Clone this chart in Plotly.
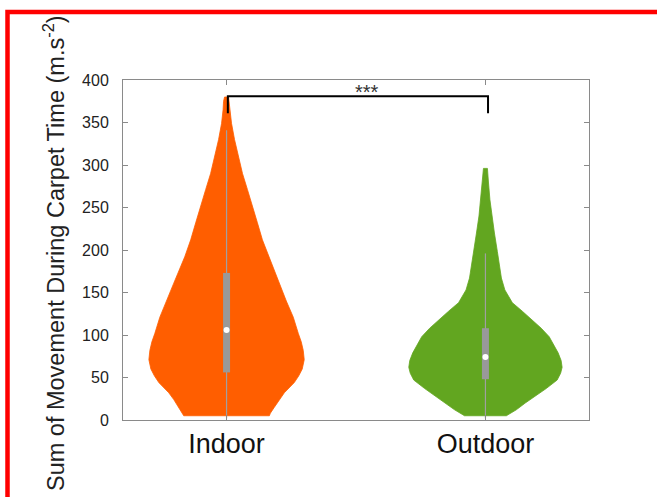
import plotly.graph_objects as go

# ---------------- data ----------------
categories = ["Indoor", "Outdoor"]
y_ticks = [0, 50, 100, 150, 200, 250, 300, 350, 400]

# violin outline: value levels and relative density (half-width)
indoor_levels = [5, 8, 15, 24, 32, 44, 52, 60, 71, 82, 92, 102, 121, 140, 161, 192, 212, 232, 252, 271, 290, 309, 330, 349, 365, 375, 380]
indoor_density = [43, 44, 48, 53, 58, 68, 72.5, 76, 78, 77, 75, 72, 67, 60, 53, 42, 36, 31, 25.5, 21, 16, 12, 8, 5, 3.5, 3, 2]
outdoor_levels = [5, 12, 20, 27, 37, 47, 55, 62, 70, 79, 88, 98, 108, 118, 128, 138, 153, 167, 176, 198, 220, 240, 259, 280, 290, 296]
outdoor_density = [21, 31, 40, 49, 61, 72, 75.5, 77, 76, 73, 69, 64, 56, 47, 37, 27, 19.5, 16, 15, 12, 9, 6.5, 4.5, 3, 2.5, 2]

# box statistics: [whisker low, q1, median, q3, whisker high]
indoor_stats = [2, 56, 106, 173, 341]
outdoor_stats = [2, 48, 74, 108, 196]

# significance
sig_label = "***"
sig_top = 381
sig_leg = 361

# ---------------- style ----------------
colors = ["#ff5e00", "#62a620"]
max_half_width = 0.30
font_family = "Liberation Sans, Arial, sans-serif"

fig = go.Figure()

all_max = max(max(indoor_density), max(outdoor_density))
for i, (lv, dens, col) in enumerate([(indoor_levels, indoor_density, colors[0]),
                                     (outdoor_levels, outdoor_density, colors[1])]):
    hw = [d / all_max * max_half_width for d in dens]
    xs = [i + w for w in hw] + [i - w for w in reversed(hw)] + [i + hw[0]]
    ys = list(lv) + list(reversed(lv)) + [lv[0]]
    fig.add_trace(go.Scatter(x=xs, y=ys, mode="lines", fill="toself",
                             fillcolor=col, line=dict(color=col, width=0.8),
                             hoverinfo="skip", showlegend=False))

for i, st in enumerate([indoor_stats, outdoor_stats]):
    # whisker
    fig.add_trace(go.Scatter(x=[i, i], y=[st[0], st[4]], mode="lines",
                             line=dict(color="#a0a0a0", width=1.2),
                             hoverinfo="skip", showlegend=False))
    # box
    fig.add_trace(go.Scatter(x=[i, i], y=[st[1], st[3]], mode="lines",
                             line=dict(color="#999999", width=7),
                             hoverinfo="skip", showlegend=False))
    # median
    fig.add_trace(go.Scatter(x=[i], y=[st[2]], mode="markers",
                             marker=dict(color="white", size=6),
                             hoverinfo="skip", showlegend=False))

# significance bracket
fig.add_trace(go.Scatter(x=[0.005, 0.005, 1.01, 1.01], y=[sig_leg, sig_top, sig_top, sig_leg],
                         mode="lines", line=dict(color="black", width=2),
                         hoverinfo="skip", showlegend=False))
fig.add_annotation(x=0.542, y=sig_top, text=sig_label, showarrow=False,
                   yanchor="bottom", yshift=-9, font=dict(size=20, color="#333", family=font_family))

# y axis title as annotation
fig.add_annotation(xref="paper", yref="paper", x=(54 - 123) / 466, y=(420 - 253) / 340,
                   text="Sum of Movement During Carpet Time (m.s<sup>-2</sup>)",
                   textangle=-90, showarrow=False, xanchor="center", yanchor="middle",
                   font=dict(size=23.5, color="#222", family=font_family))

# red frame
x_left = (7.5 - 123) / 466
y_top = (420 - 12) / 340
fig.add_shape(type="path", xref="paper", yref="paper",
              path=f"M {x_left},-0.3 L {x_left},{y_top} L 1.2,{y_top}",
              line=dict(color="#ff0000", width=4.5))

axis_common = dict(showline=True, linecolor="#8a8a8a", linewidth=1, mirror="ticks",
                   ticks="inside", tickcolor="#8a8a8a", ticklen=5, showgrid=False, zeroline=False)

fig.update_layout(
    width=657, height=497,
    margin=dict(l=123, r=68, t=80, b=77),
    plot_bgcolor="white", paper_bgcolor="white",
    font=dict(family=font_family, color="#222"),
    xaxis=dict(range=[-0.4, 1.4], tickvals=[0, 1], ticktext=categories,
               tickfont=dict(size=27, color="#111"), ticklabelstandoff=0, **axis_common),
    yaxis=dict(range=[0, 400], tickvals=y_ticks, tickfont=dict(size=16, color="#222"),
               ticklabelstandoff=10, **axis_common),
)

fig.write_html("out.html", config={"displayModeBar": False},
               post_script="document.body.style.margin='0';")
